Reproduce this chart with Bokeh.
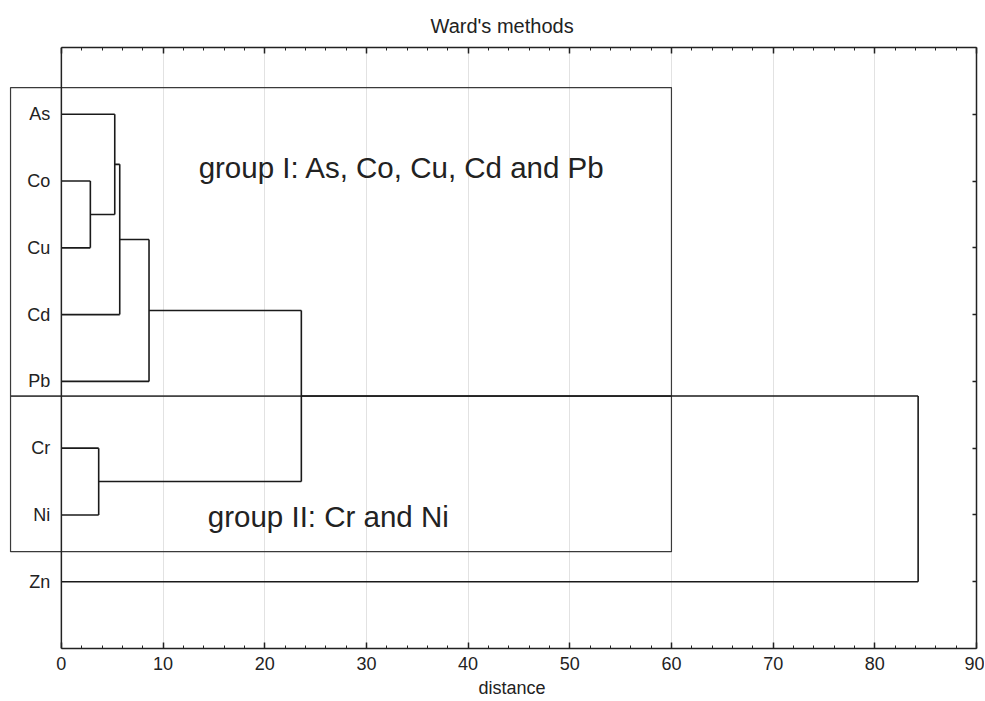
from bokeh.plotting import figure
from bokeh.models import FixedTicker, LinearAxis, Range1d, ColumnDataSource, Span, Title
from bokeh.embed import file_html
from bokeh.resources import INLINE
from bokeh.core.properties import value

# ---------------- data ----------------
leaves = ["As", "Co", "Cu", "Cd", "Pb", "Cr", "Ni", "Zn"]
# linkage: node ids 0..7 are leaves, 8.. are merged clusters (in merge order)
merge_left = [1, 0, 9, 10, 5, 11, 13]
merge_right = [2, 8, 3, 4, 6, 12, 7]
merge_dist = [2.85, 5.25, 5.74, 8.62, 3.67, 23.6, 84.26]

x_ticks = [0, 10, 20, 30, 40, 50, 60, 70, 80, 90]
x_minor = list(range(0, 91, 2))

group_labels = ["group I: As, Co, Cu, Cd and Pb", "group II: Cr and Ni"]
group_left = [-5.0, -5.0]
group_right = [60, 60]
group_top = [8.40, 3.78]
group_bottom = [3.78, 1.45]
group_text_x = [13.5, 14.4]
group_text_y = [7.21, 1.98]

title_text = "Ward's methods"
x_label = "distance"

# ---------------- dendrogram geometry ----------------
n = len(leaves)
leaf_pos = [float(n - i) for i in range(n)]
node_y = {i: leaf_pos[i] for i in range(n)}
node_h = {i: 0.0 for i in range(n)}
x0, y0, x1, y1 = [], [], [], []
for k, (a, b, d) in enumerate(zip(merge_left, merge_right, merge_dist)):
    for c in (a, b):
        x0.append(node_h[c]); y0.append(node_y[c]); x1.append(d); y1.append(node_y[c])
    x0.append(d); y0.append(node_y[a]); x1.append(d); y1.append(node_y[b])
    nid = n + k
    node_y[nid] = (node_y[a] + node_y[b]) / 2.0
    node_h[nid] = d
seg = ColumnDataSource(dict(x0=x0, y0=y0, x1=x1, y1=y1))

FONT = "Liberation Sans"
INK = "#222222"

p = figure(frame_width=968, frame_height=601,
           x_range=Range1d(-5.2, 90), y_range=Range1d(0, 9),
           output_backend="svg", toolbar_location=None,
           min_border_left=8, min_border_top=47, min_border_right=8,
           min_border_bottom=45, background_fill_color="white",
           border_fill_color="white")

p.outline_line_color = None

# grid
p.xgrid.ticker = FixedTicker(ticks=x_ticks[1:])
p.xgrid.grid_line_color = "#e2e2e2"
p.xgrid.grid_line_width = 1
p.ygrid.visible = False
p.yaxis.visible = False

# bottom axis
xa = p.xaxis[0]
xa.bounds = (x_ticks[0], x_ticks[-1])
xa.ticker = FixedTicker(ticks=x_ticks, minor_ticks=x_minor)
xa.major_tick_in = 6
xa.major_tick_out = 0
xa.minor_tick_in = 3
xa.minor_tick_out = 0
xa.axis_line_color = INK
xa.axis_line_width = 1.5
xa.major_tick_line_color = INK
xa.minor_tick_line_color = INK
xa.major_tick_line_width = 1.5
xa.major_label_text_font = FONT
xa.major_label_text_font_size = "18px"
xa.major_label_text_color = INK
xa.major_label_standoff = 8

# x axis label as a bottom title (positioned like the reference)
p.add_layout(Title(text=x_label, align="left", offset=470, text_font=FONT,
                   text_font_style="normal", text_font_size="18px",
                   text_color=INK, standoff=6), "below")

# top axis (ticks only)
top = LinearAxis(ticker=FixedTicker(ticks=x_ticks, minor_ticks=x_minor),
                 bounds=(x_ticks[0], x_ticks[-1]),
                 major_tick_in=6, major_tick_out=0, minor_tick_in=3, minor_tick_out=0,
                 axis_line_color=INK, axis_line_width=1.5,
                 major_tick_line_color=INK, minor_tick_line_color=INK,
                 major_tick_line_width=1.5,
                 major_label_overrides={t: "" for t in x_ticks},
                 major_label_standoff=0)
p.add_layout(top, "above")

# right axis (ticks only)
right = LinearAxis(ticker=FixedTicker(ticks=leaf_pos, minor_ticks=[]),
                   major_tick_in=4, major_tick_out=0, minor_tick_in=0, minor_tick_out=0,
                   axis_line_color=INK, axis_line_width=1.5,
                   major_tick_line_color=INK, major_tick_line_width=1.5,
                   major_label_overrides={t: "" for t in leaf_pos},
                   major_label_standoff=0)
p.add_layout(right, "right")

# left axis line at distance 0
p.add_layout(Span(location=x_ticks[0], dimension="height", line_color=INK, line_width=1.5))

# leaf labels
p.text(x=[-1.1] * n, y=leaf_pos, text=leaves, text_font=value(FONT),
       text_font_size="18px", text_color=INK, text_align="right",
       text_baseline="middle")

# group boxes
p.quad(left=group_left, right=group_right, top=group_top, bottom=group_bottom,
       fill_color=None, line_color="#3a3a3a", line_width=1.2)

# dendrogram
p.segment("x0", "y0", "x1", "y1", source=seg, line_color="#1a1a1a", line_width=1.6)

# group texts
p.text(x=group_text_x, y=group_text_y, text=group_labels,
       text_font=value(FONT), text_font_size="29.5px", text_color=INK,
       text_baseline="middle", text_align="left")

# title
p.title.text = title_text
p.title.align = "left"
p.title.offset = 422
p.title.text_font = FONT
p.title.text_font_style = "normal"
p.title.text_font_size = "20px"
p.title.text_color = INK
p.title.standoff = 22

open("out.html", "w").write(file_html(p, INLINE))
